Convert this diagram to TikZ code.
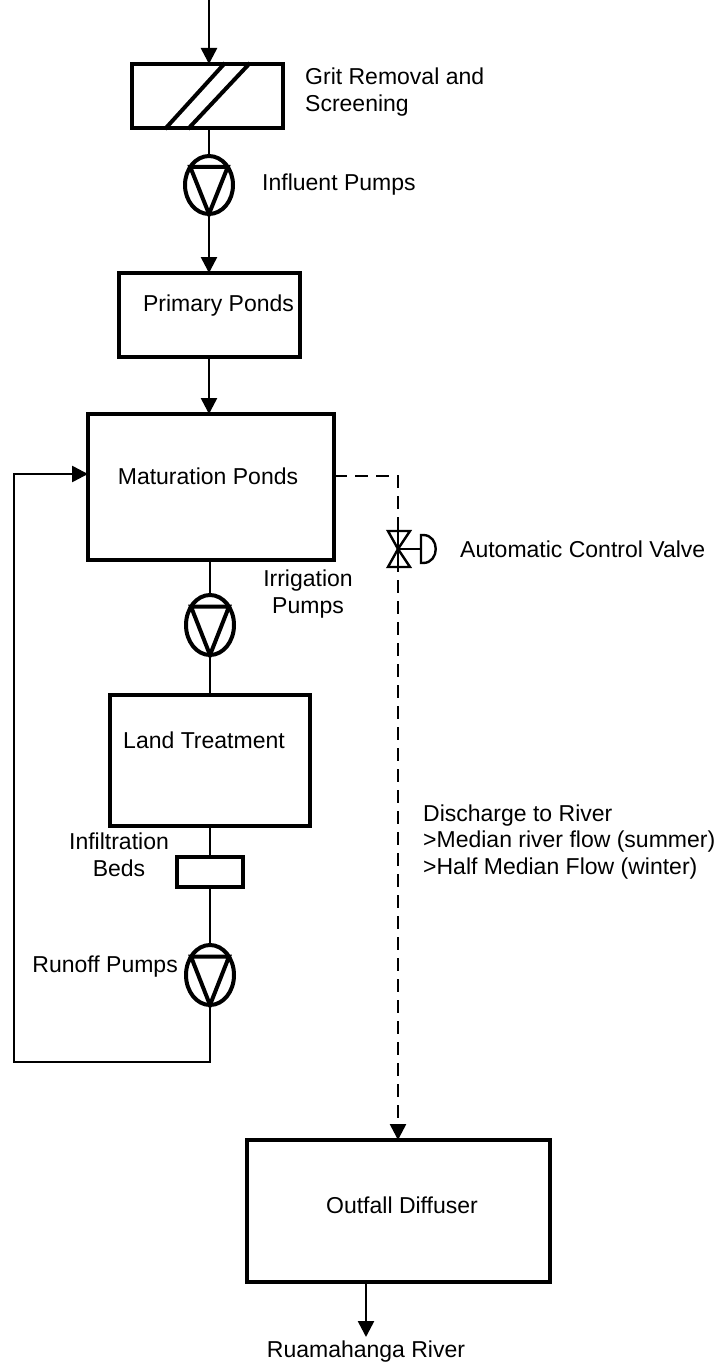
\documentclass[tikz,border=0pt]{standalone}
\usepackage{fontspec}
\setmainfont{Liberation Sans}
\usetikzlibrary{arrows.meta,shapes.geometric}
\begin{document}
\begin{tikzpicture}[x=1pt,y=-1pt,
  box/.style={draw,line width=4pt,inner sep=0pt,outer sep=0pt},
  pump/.style={draw,ellipse,line width=4pt,minimum width=48pt,minimum height=58pt,inner sep=0pt,outer sep=0pt},
  tri/.style={line width=4pt,line join=miter},
  conn/.style={line width=2.6pt},
  flow/.style={conn,-{Triangle[width=16pt,length=16pt]}},
  dash flow/.style={line width=2.6pt,dash pattern=on 13pt off 8pt,-{Triangle[width=16pt,length=16pt]}},
  txt/.style={font=\fontsize{23}{26.5}\selectfont,inner sep=0pt},
  valvesty/.style={line width=2.4pt,line join=miter}
]
\useasboundingbox (0,0) rectangle (721,1364);

% boxes
\node[box,minimum width=151pt,minimum height=64pt] (grit) at (207.5,96) {};
\node[box,minimum width=181pt,minimum height=84pt] (prim) at (209.5,315) {};
\node[box,minimum width=246pt,minimum height=146pt] (mat) at (211,487) {};
\node[box,minimum width=200pt,minimum height=131pt] (land) at (210,760.5) {};
\node[box,minimum width=66pt,minimum height=30pt] (infil) at (210,872) {};
\node[box,minimum width=303pt,minimum height=142pt] (out) at (398.5,1211) {};

% grit screen diagonals
\draw[line width=4pt] (165,129) -- (225,63);
\draw[line width=4pt] (188,129) -- (250,63);

% pumps
\node[pump] (p1) at (209,185) {};
\node[pump,minimum height=60pt] (p2) at (210,625) {};
\node[pump,minimum height=60pt] (p3) at (210,975) {};
\foreach \p in {p1,p2,p3}
  \draw[tri] (\p.136) -- (\p.44) -- (\p.south) -- cycle;

% connectors
\coordinate (in) at (209,0);
\draw[flow] (in) -- (in |- grit.north);
\draw[conn] (grit.south -| p1) -- (p1.north);
\draw[flow] (p1.south) -- (p1.south |- prim.north);
\draw[flow] (prim.south -| p1) -- (p1 |- mat.north);
\draw[conn] (mat.south -| p2) -- (p2.north);
\draw[conn] (p2.south) -- (land.north);
\draw[conn] (land.south) -- (infil.north);
\draw[conn] (infil.south) -- (p3.north);
\coordinate (riv) at (366,1337);
\draw[flow] (out.south -| riv) -- (riv);

% recycle loop
\coordinate (lb) at (14,1062);
\coordinate (lt) at (14,474);
\draw[flow] (p3.south) |- (lb) -- (lt) -- (mat.west |- lt);

% dashed discharge line
\coordinate (dc) at (398,476);
\node[inner sep=0pt,minimum size=0pt] (valve) at (398,549) {};
\draw[dash flow] (mat.east |- dc) -- (dc) -- (valve.center) -- (out.north -| dc);

% automatic control valve
\fill[white] (388,531) -- (410,531) -- (398,549) -- cycle;
\fill[white] (388,567) -- (410,567) -- (398,549) -- cycle;
\draw[valvesty] (388,531) -- (410,531) -- (398,549) -- cycle;
\draw[valvesty] (388,567) -- (410,567) -- (398,549) -- cycle;
\draw[valvesty] (398,531) -- (398,567);
\draw[valvesty] (valve.center) -- (421,549);
\draw[valvesty] (421,535) -- (423,535) .. controls (440,535) and (440,563) .. (423,563) -- (421,563) -- cycle;

% labels
\node[txt,anchor=west,align=left] (tgrit) at (305,92) {Grit Removal and\\Screening};
\node[txt,anchor=west] (tp1) at (262,185) {Influent Pumps};
\node[txt] (tprim) at (218.5,306) {Primary Ponds};
\node[txt] (tmat) at (208,476) {Maturation Ponds};
\node[txt,align=center] (tp2) at (308,594) {Irrigation\\Pumps};
\node[txt] (tland) at (204,740) {Land Treatment};
\node[txt,align=center] (tinf) at (119,855) {Infiltration\\Beds};
\node[txt,anchor=east] (tp3) at (178,967) {Runoff Pumps};
\node[txt,anchor=west] (tvalve) at (460,549) {Automatic Control Valve};
\node[txt,anchor=west,align=left] (tdis) at (423,842) {Discharge to River\\>Median river flow (summer)\\>Half Median Flow (winter)};
\node[txt] (tout) at (402,1205) {Outfall Diffuser};
\node[txt] (triver) at (366,1352) {Ruamahanga River};
\end{tikzpicture}
\end{document}
